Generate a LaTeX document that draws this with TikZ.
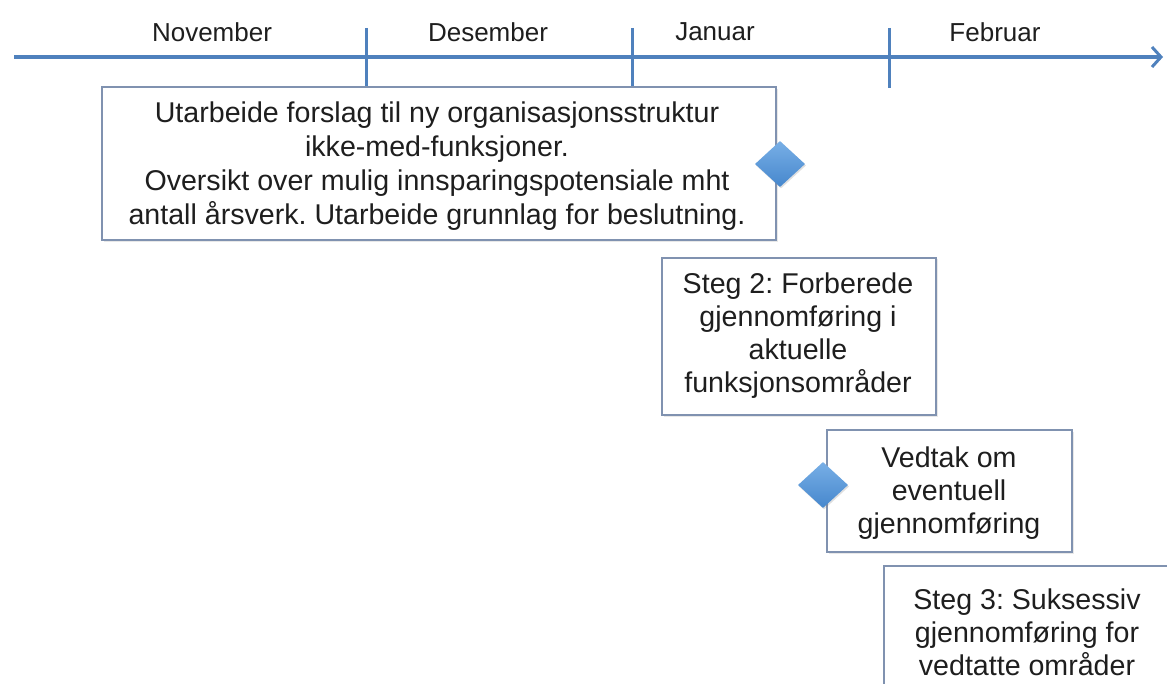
\documentclass[tikz,border=0pt]{standalone}
\usepackage{fontspec}
\setmainfont{Liberation Sans}
\usetikzlibrary{arrows.meta,shapes.geometric,shadows}
\definecolor{tlblue}{RGB}{79,129,189}
\definecolor{boxedge}{RGB}{128,146,176}
\definecolor{dtop}{RGB}{120,175,230}
\definecolor{dbot}{RGB}{70,135,205}
\definecolor{txt}{RGB}{30,30,30}
\tikzset{
  month/.style={font=\fontsize{26}{31}\selectfont, text=txt, inner sep=0pt},
  tick/.style={draw=tlblue, line width=3pt},
  box/.style={draw=boxedge, line width=2pt, fill=white, rectangle, inner sep=0pt,
     drop shadow={opacity=0.18, shadow xshift=1.5pt, shadow yshift=-1.5pt}},
  boxtext/.style={font=\fontsize{28.6}{33}\selectfont\frenchspacing, text=txt, align=center, inner sep=0pt},
  milestone/.style={diamond, aspect=1.1, minimum width=50pt, minimum height=46pt, inner sep=0pt,
     top color=dtop, bottom color=dbot, draw=none,
     drop shadow={opacity=0.25, shadow xshift=1pt, shadow yshift=-1.5pt}}
}
\begin{document}
\begin{tikzpicture}[x=1pt,y=-1pt]
\useasboundingbox (0,0) rectangle (1167,684);
\clip (0,0) rectangle (1167,684);
% timeline
\coordinate (tl0) at (14,57);
\coordinate (tl1) at (1163,57);
\draw[draw=tlblue, line width=4pt, -{Straight Barb[length=9pt,width=20pt,line width=3pt]}] (tl0) -- (tl1);
\coordinate (t1a) at (366,28); \coordinate (t1b) at (366,86);
\coordinate (t2a) at (632,28); \coordinate (t2b) at (632,86);
\coordinate (t3a) at (889,28); \coordinate (t3b) at (889,88);
\draw[tick] (t1a) -- (t1b);
\draw[tick] (t2a) -- (t2b);
\draw[tick] (t3a) -- (t3b);
\node[month] (mnov) at (212,32) {November};
\node[month] (mdes) at (488,32) {Desember};
\node[month] (mjan) at (715,32) {Januar};
\node[month] (mfeb) at (995,32) {Februar};
% box 1
\node[box, minimum width=674pt, minimum height=153pt] (b1) at (439,164) {};
\node[boxtext, font=\fontsize{28.6}{34}\selectfont\frenchspacing] (b1t) at (437,166) {Utarbeide forslag til ny organisasjonsstruktur\\ikke-med-funksjoner.\\Oversikt over mulig innsparingspotensiale mht\\antall årsverk. Utarbeide grunnlag for beslutning.};
\node[milestone] (d1) at (780,164) {};
% box 2
\node[box, minimum width=274pt, minimum height=157pt] (b2) at (799,336.5) {};
\node[boxtext] (b2t) at (798,336) {Steg 2: Forberede\\gjennomføring i\\aktuelle\\funksjonsområder};
% box 3
\node[box, minimum width=245pt, minimum height=122pt] (b3) at (949.5,491) {};
\node[boxtext] (b3t) at (949,493) {Vedtak om\\eventuell\\gjennomføring};
\node[milestone] (d2) at (823,485) {};
% box 4 (cut off by the picture's edge)
\node[box, minimum width=320pt, minimum height=160pt] (b4) at (1044,646) {};
\node[boxtext] (b4t) at (1027,632) {Steg 3: Suksessiv\\gjennomføring for\\vedtatte områder};
\end{tikzpicture}
\end{document}
